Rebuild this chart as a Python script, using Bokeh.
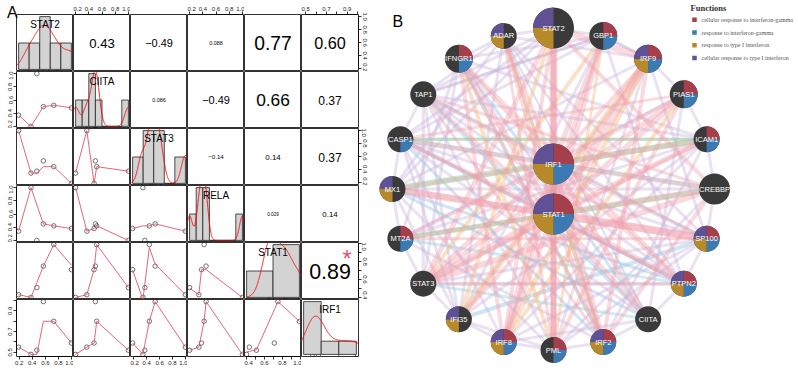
import numpy as np
from bokeh.plotting import figure
from bokeh.models import Range1d, LinearAxis, FixedTicker, PrintfTickFormatter, Div
from bokeh.layouts import gridplot, row
from bokeh.embed import file_html
from bokeh.resources import INLINE
from bokeh.core.properties import value

# ======================= Panel A data (6 samples) =======================
var_names = ["STAT2", "CIITA", "STAT3", "RELA", "STAT1", "IRF1"]
STAT2 = [0.19, 0.38, 0.47, 0.57, 0.73, 1.00]
CIITA = [0.37, 0.20, 1.00, 0.50, 0.52, 0.48]
STAT3 = [1.00, 0.34, 0.37, 0.53, 0.44, 0.18]
RELA = [0.34, 1.00, 0.20, 0.45, 0.42, 0.38]
STAT1 = [0.43, 0.40, 0.51, 0.75, 0.99, 0.71]
IRF1 = [0.55, 0.48, 0.52, 0.99, 0.80, 0.59]

# upper-triangle correlations (row-major), as printed
cor_values = [0.43, -0.49, 0.088, 0.77, 0.60,
              0.086, -0.49, 0.66, 0.37,
              -0.14, 0.14, 0.37,
              0.029, 0.14,
              0.89]
cor_stars = ["", "", "", "", "",
             "", "", "", "",
             "", "", "",
             "", "",
             "*"]

# ======================= Panel B data =======================
ring_genes = ["STAT2", "GBP1", "IRF9", "PIAS1", "ICAM1", "CREBBP", "SP100", "PTPN2", "CIITA", "IRF2",
              "PML", "IRF8", "IFI35", "STAT3", "MT2A", "MX1", "CASP1", "TAP1", "IFNGR1", "ADAR"]
hub_genes = ["IRF1", "STAT1"]
big_genes = ["STAT2", "IRF1", "STAT1"]
mid_genes = ["CREBBP"]
upper_mid_genes = ["GBP1", "IRF9", "PIAS1", "IFNGR1"]
func_names = ["cellular response to interferon-gamma", "response to interferon-gamma",
              "response to type I interferon", "cellular response to type I interferon"]
func_colors = ["#a53f4c", "#3b7ab2", "#b68a2b", "#5f5193"]
func_members = [
    ["IRF1", "STAT1", "GBP1", "IRF9", "PIAS1", "ICAM1", "SP100", "PTPN2", "IRF2", "PML", "IRF8", "MT2A", "IFNGR1"],
    ["IRF1", "STAT1", "GBP1", "IRF9", "PIAS1", "ICAM1", "SP100", "PTPN2", "IRF2", "PML", "IRF8", "MT2A", "IFNGR1", "CASP1"],
    ["IRF1", "STAT1", "STAT2", "IRF9", "SP100", "PTPN2", "IRF2", "IRF8", "IFI35", "MX1", "ADAR"],
    ["IRF1", "STAT1", "STAT2", "IRF9", "SP100", "PTPN2", "IRF2", "IRF8", "IFI35", "MX1", "ADAR"],
]
edges_physical = [
    ("STAT1", "STAT2", 8), ("STAT1", "GBP1", 5), ("STAT1", "IRF9", 8), ("STAT1", "PIAS1", 6), ("STAT1", "ICAM1", 5),
    ("STAT1", "CREBBP", 6), ("STAT1", "SP100", 8), ("STAT1", "PTPN2", 6), ("STAT1", "CIITA", 5), ("STAT1", "IRF2", 5),
    ("STAT1", "PML", 7), ("STAT1", "IRF8", 5), ("STAT1", "IFI35", 4), ("STAT1", "STAT3", 8), ("STAT1", "MT2A", 4),
    ("STAT1", "MX1", 6), ("STAT1", "CASP1", 4), ("STAT1", "TAP1", 4), ("STAT1", "IFNGR1", 6), ("STAT1", "ADAR", 4),
    ("STAT1", "IRF1", 7),
    ("IRF1", "STAT2", 6), ("IRF1", "GBP1", 5), ("IRF1", "IRF9", 4), ("IRF1", "PIAS1", 4), ("IRF1", "ICAM1", 5),
    ("IRF1", "CREBBP", 5), ("IRF1", "SP100", 4), ("IRF1", "PTPN2", 4), ("IRF1", "IRF2", 6), ("IRF1", "PML", 5),
    ("IRF1", "IRF8", 6), ("IRF1", "STAT3", 5), ("IRF1", "MT2A", 4), ("IRF1", "MX1", 4), ("IRF1", "CASP1", 5),
    ("IRF1", "TAP1", 4), ("IRF1", "IFNGR1", 4), ("IRF1", "ADAR", 4), ("IRF1", "CIITA", 5),
    ("STAT2", "IRF9", 7), ("STAT2", "STAT3", 5), ("STAT2", "PML", 5), ("STAT2", "CREBBP", 4), ("STAT2", "IRF8", 4),
    ("STAT3", "CREBBP", 6), ("STAT3", "PIAS1", 5), ("STAT3", "PTPN2", 4), ("STAT3", "ICAM1", 4), ("PIAS1", "PML", 4),
    ("CREBBP", "IRF2", 4), ("IFNGR1", "PTPN2", 4), ("IRF9", "IRF2", 4), ("GBP1", "IRF8", 4), ("IFNGR1", "IRF2", 4),
    ("TAP1", "IRF2", 3), ("MX1", "SP100", 7), ("IFNGR1", "IRF8", 4), ("CASP1", "PIAS1", 3), ("ADAR", "PML", 3),
    ("TAP1", "CREBBP", 3), ("CASP1", "PTPN2", 3), ("MT2A", "SP100", 3), ("IFI35", "IRF9", 3),
]
edges_predicted = [("IRF9", "IFI35", 7), ("IRF9", "IRF8", 5), ("GBP1", "STAT3", 4), ("PIAS1", "IRF8", 4),
                   ("IFNGR1", "PML", 4), ("ADAR", "IRF2", 4), ("STAT2", "IFI35", 4), ("GBP1", "PML", 3)]
edges_genetic = [("ICAM1", "MX1", 6), ("CREBBP", "MT2A", 5), ("ICAM1", "CASP1", 3)]
edges_coloc = [("CIITA", "TAP1", 4), ("PTPN2", "CASP1", 4), ("SP100", "IFI35", 4), ("CIITA", "IFNGR1", 3),
               ("PTPN2", "MX1", 3), ("IRF2", "CASP1", 3), ("CIITA", "MX1", 3), ("SP100", "TAP1", 3),
               ("CIITA", "ADAR", 2), ("PTPN2", "STAT3", 2)]
edges_pathway = [("CIITA", "STAT3", 3), ("IRF2", "IFNGR1", 3), ("PTPN2", "MT2A", 3), ("CREBBP", "CASP1", 4)]
edges_coexp = [
    ("STAT2", "TAP1", 3), ("STAT2", "MX1", 3), ("STAT2", "CASP1", 3), ("GBP1", "TAP1", 3), ("GBP1", "IFI35", 3),
    ("GBP1", "CASP1", 3), ("GBP1", "IRF9", 3), ("IRF9", "MX1", 3), ("IRF9", "ADAR", 3), ("IRF9", "SP100", 3),
    ("ADAR", "SP100", 3), ("ADAR", "MX1", 3), ("ADAR", "IFI35", 3), ("TAP1", "IFI35", 3), ("TAP1", "PML", 3),
    ("TAP1", "ICAM1", 3), ("CASP1", "ICAM1", 3), ("CASP1", "IRF8", 3), ("MX1", "IFI35", 3), ("MX1", "PML", 3),
    ("SP100", "PML", 3), ("PML", "IRF9", 3), ("IRF8", "CIITA", 3), ("IRF8", "ICAM1", 3), ("MT2A", "ICAM1", 3),
    ("MT2A", "PIAS1", 3), ("STAT3", "SP100", 3), ("IRF2", "ADAR", 3), ("PTPN2", "TAP1", 3), ("CIITA", "CASP1", 3),
    ("IFI35", "ICAM1", 3), ("IFI35", "PML", 3), ("IFNGR1", "GBP1", 3), ("IFNGR1", "ICAM1", 3), ("TAP1", "GBP1", 3),
    ("MT2A", "IRF2", 3), ("STAT3", "IFNGR1", 3), ("MX1", "CREBBP", 3), ("CASP1", "SP100", 3), ("ADAR", "PTPN2", 3),
    ("ADAR", "IFNGR1", 3), ("ADAR", "TAP1", 3), ("TAP1", "CASP1", 3), ("CASP1", "MX1", 3), ("MX1", "MT2A", 3),
    ("MT2A", "STAT3", 3), ("STAT3", "IFI35", 3), ("IFI35", "IRF8", 3), ("IRF8", "PML", 3), ("PML", "IRF2", 3),
    ("IRF2", "CIITA", 3), ("CIITA", "PTPN2", 3), ("PTPN2", "SP100", 3), ("SP100", "CREBBP", 3),
    ("CREBBP", "ICAM1", 3), ("ICAM1", "PIAS1", 3), ("PIAS1", "IRF9", 3), ("IRF9", "GBP1", 3), ("GBP1", "STAT2", 3),
    ("STAT2", "ADAR", 3), ("IFNGR1", "MT2A", 3), ("TAP1", "STAT3", 3), ("CASP1", "IFI35", 3), ("GBP1", "PTPN2", 3),
    ("PIAS1", "CIITA", 3), ("ICAM1", "IRF2", 3), ("CREBBP", "PML", 3), ("SP100", "IRF8", 3),
]

# ======================= helpers =======================
def r_pretty(lo, hi, n, min_n=None):
    if min_n is None:
        min_n = n // 3
    h, h5 = 1.5, 0.5 + 1.5 * 1.5
    dx = hi - lo
    cell = dx / n if dx > 0 else max(abs(lo), 1.0)
    base = 10.0 ** np.floor(np.log10(cell))
    unit = base
    if 2 * base - cell < h * (cell - unit):
        unit = 2 * base
        if 5 * base - cell < h5 * (cell - unit):
            unit = 5 * base
            if 10 * base - cell < h * (cell - unit):
                unit = 10 * base
    ns = np.floor(lo / unit + 1e-7)
    nu = np.ceil(hi / unit - 1e-7)
    while ns * unit > lo + 1e-10 * unit:
        ns -= 1
    while nu * unit < hi - 1e-10 * unit:
        nu += 1
    return np.round(np.arange(ns, nu + 0.5) * unit, 10)


def fd_breaks(x):
    q1, q3 = np.percentile(x, [25, 75])
    hfd = 2 * (q3 - q1) * len(x) ** (-1 / 3)
    nb = int(np.ceil((x.max() - x.min()) / hfd)) if hfd > 0 else 1
    return r_pretty(x.min(), x.max(), nb, min_n=1)


def hist_density(x, br):
    fz = 1e-7 * np.median(np.diff(br))
    fb = br + np.r_[-fz, np.full(len(br) - 1, fz)]
    idx = np.searchsorted(fb, x, side="left") - 1
    cnt = np.bincount(idx, minlength=len(br) - 1)[:len(br) - 1]
    return cnt / (len(x) * np.diff(br))


def kde(x):
    hi = np.std(x, ddof=1)
    q1, q3 = np.percentile(x, [25, 75])
    lo = min(hi, (q3 - q1) / 1.34) or hi
    bw = 0.9 * lo * len(x) ** (-0.2)
    g = np.linspace(x.min() - 3 * bw, x.max() + 3 * bw, 512)
    d = np.exp(-0.5 * ((g[:, None] - x[None, :]) / bw) ** 2).sum(1) / (len(x) * bw * np.sqrt(2 * np.pi))
    return g, d


def lowess(x, y, f=2 / 3, iters=3):
    x = np.asarray(x, float)
    y = np.asarray(y, float)
    o = np.argsort(x, kind="mergesort")
    x, y = x[o], y[o]
    n = len(x)
    ns = max(2, min(n, int(f * n + 1e-7)))
    rng = x[-1] - x[0]
    delta = 0.01 * rng
    ys = np.zeros(n)
    rw = np.ones(n)

    def lowest(xs, nleft, nright, userw):
        h = max(xs - x[nleft], x[nright] - xs)
        h9, h1 = 0.999 * h, 0.001 * h
        w = np.zeros(n)
        a = 0.0
        j = nleft
        while j < n:
            r = abs(x[j] - xs)
            if r <= h9:
                w[j] = 1.0 if r <= h1 else (1 - (r / h) ** 3) ** 3
                if userw:
                    w[j] *= rw[j]
                a += w[j]
            elif x[j] > xs:
                break
            j += 1
        nrt = j - 1
        if a <= 0:
            return None
        sl = slice(nleft, nrt + 1)
        w[sl] /= a
        if h > 0:
            a = np.sum(w[sl] * x[sl])
            b = xs - a
            c = np.sum(w[sl] * (x[sl] - a) ** 2)
            if np.sqrt(c) > 0.001 * rng:
                b /= c
                w[sl] *= b * (x[sl] - a) + 1.0
        return np.sum(w[sl] * y[sl])

    it = 1
    while it <= iters + 1:
        nleft, nright, last, i = 0, ns - 1, -1, 0
        while True:
            if nright < n - 1:
                if x[i] - x[nleft] > x[nright + 1] - x[i]:
                    nleft += 1
                    nright += 1
                    continue
            v = lowest(x[i], nleft, nright, it > 1)
            ys[i] = y[i] if v is None else v
            if last < i - 1:
                denom = x[i] - x[last]
                for j in range(last + 1, i):
                    al = (x[j] - x[last]) / denom
                    ys[j] = al * ys[i] + (1 - al) * ys[last]
            last = i
            cut = x[last] + delta
            i = last + 1
            while i < n:
                if x[i] > cut:
                    break
                if x[i] == x[last]:
                    ys[i] = ys[last]
                    last = i
                i += 1
            i = max(last + 1, i - 1)
            if last >= n - 1:
                break
        res = y - ys
        sc = np.mean(np.abs(res))
        if it > iters:
            break
        ar = np.sort(np.abs(res))
        m1 = n // 2
        cmad = 3 * (ar[m1] + ar[n - m1 - 1]) if n % 2 == 0 else 6 * ar[m1]
        if cmad < 1e-7 * sc:
            break
        r = np.abs(res)
        rw = np.where(r <= 0.001 * cmad, 1.0, np.where(r <= 0.999 * cmad, (1 - (r / cmad) ** 2) ** 2, 0.0))
        it += 1
    return x, ys


def ext(lo, hi, f=0.04):
    d = hi - lo
    return lo - f * d, hi + f * d


def em_width(s):
    w = {'.': 0.278, '\u2212': 0.584, '-': 0.333, '*': 0.389}
    return sum(w.get(ch, 0.556) for ch in s)


def fmt_r(r):
    d = max(2, int(-np.floor(np.log10(abs(r)))) + 1)
    return f"{r:.{d}f}".replace("-", "\u2212")


# ======================= Panel A =======================
CELL = 57
LB, TB, BB, RB = 16, 14, 17, 14
FONT = value("Liberation Sans")
data = [np.array(v, float) for v in (STAT2, CIITA, STAT3, RELA, STAT1, IRF1)]
nv = len(data)
var_rng = [ext(v.min(), v.max()) for v in data]


def axis_ticks(lo, hi):
    t = [v for v in r_pretty(lo, hi, 5) if lo - 1e-9 <= v <= hi + 1e-9]
    step = t[1] - t[0]
    if step < 0.15:
        return t[::2], t[1::2], t
    return t, [], t


def add_axis(p, side, lo, hi, visible=True):
    major, minor, allt = axis_ticks(lo, hi)
    ax = LinearAxis(ticker=FixedTicker(ticks=list(major), minor_ticks=list(minor)),
                    formatter=PrintfTickFormatter(format="%.1f"),
                    major_tick_out=3, major_tick_in=0, minor_tick_out=3, minor_tick_in=0,
                    major_label_standoff=1,
                    major_label_text_font_size="6px", major_label_text_font="Liberation Sans",
                    major_label_text_color="#222222",
                    axis_line_color="black", major_tick_line_color="black", minor_tick_line_color="black",
                    axis_line_width=0.8, major_tick_line_width=0.8, minor_tick_line_width=0.8)
    ax.bounds = (allt[0], allt[-1])
    if side in ("left", "right"):
        ax.major_label_orientation = "vertical"
    if not visible:
        ax.axis_line_alpha = 0
        ax.major_tick_line_alpha = 0
        ax.minor_tick_line_alpha = 0
        ax.major_label_text_alpha = 0
    p.add_layout(ax, side)


cor_iter = iter(zip(cor_values, cor_stars))
upper = {}
for r in range(nv):
    for c in range(r + 1, nv):
        upper[(r, c)] = next(cor_iter)

figs = []
for r in range(nv):
    frow = []
    for c in range(nv):
        if r == c:
            x = data[r]
            br = fd_breaks(x)
            dens = hist_density(x, br)
            xr = ext(br[0], br[-1])
            yr = ext(0.0, dens.max())
        else:
            xr, yr = var_rng[c], var_rng[r]
        p = figure(width=CELL + (LB if c == 0 else 0) + (RB if c == nv - 1 else 0),
                   height=CELL + (TB if r == 0 else 0) + (BB if r == nv - 1 else 0),
                   x_range=Range1d(*xr), y_range=Range1d(*yr),
                   x_axis_type=None, y_axis_type=None,
                   toolbar_location=None, output_backend="svg",
                   min_border_left=LB if c == 0 else 0, min_border_right=RB if c == nv - 1 else 0,
                   min_border_top=TB if r == 0 else 0, min_border_bottom=BB if r == nv - 1 else 0)
        p.outline_line_color = "#333333"
        p.outline_line_width = 1
        fx = lambda t, xr=xr: xr[0] + t * (xr[1] - xr[0])
        fy = lambda t, yr=yr: yr[0] + t * (yr[1] - yr[0])
        if r == c:
            p.quad(left=br[:-1], right=br[1:], top=dens, bottom=0,
                   fill_color="#d3d3d3", line_color="#222222", line_width=0.8)
            g, d = kde(x)
            p.line(g, d, color="red", line_width=0.9)
            rl = 0.03 * (yr[1] - yr[0])
            p.segment(x0=x, y0=[yr[0]] * len(x), x1=x, y1=[yr[0] + rl] * len(x), color="black", line_width=0.6)
            p.text(x=[fx(0.5)], y=[fy(5 / 6)], text=[var_names[r]], text_font=FONT,
                   text_font_size="10px", text_align="center", text_baseline="middle", text_color="black")
        elif r > c:
            p.scatter(data[c], data[r], marker="circle", size=4.5, fill_color=None,
                      line_color="#3a3a3a", line_width=0.7)
            lx, ly = lowess(data[c], data[r])
            p.line(lx, ly, color="#DF536B", line_width=0.9)
        else:
            rv, star = upper[(r, c)]
            txt = fmt_r(rv)
            base = 0.8 * CELL / em_width(txt)
            fs = base * (abs(rv) + 0.3) / 1.3
            p.text(x=[fx(0.5)], y=[fy(0.5)], text=[txt], text_font=FONT,
                   text_font_size=f"{fs:.2f}px", text_align="center", text_baseline="middle",
                   text_color="black")
            if star:
                p.text(x=[fx(0.8)], y=[fy(0.8 - 0.22 * base / CELL)], text=[star], text_font=FONT,
                       text_font_size=f"{base:.2f}px", text_align="center", text_baseline="middle",
                       text_color="#DF536B")
        # axes (invisible ones keep the borders equal)
        if r == 0:
            lo, hi = (var_rng[c] if r != c else xr)
            add_axis(p, "above", lo, hi, visible=(c % 2 == 1 and r != c))
        if r == nv - 1:
            lo, hi = (var_rng[c] if r != c else xr)
            add_axis(p, "below", lo, hi, visible=(c % 2 == 0 and r != c))
        if c == 0:
            lo, hi = (var_rng[r] if r != c else yr)
            add_axis(p, "left", lo, hi, visible=(r % 2 == 1 and r != c))
        if c == nv - 1:
            lo, hi = (var_rng[r] if r != c else yr)
            add_axis(p, "right", lo, hi, visible=(r % 2 == 0 and r != c))
        frow.append(p)
    figs.append(frow)

grid = gridplot(figs, toolbar_location=None)

# panel letter "A" (taken out of the flow, placed on the top-left corner)
labelA = Div(text="A", width=0, height=0,
             styles={"font-family": "Liberation Sans", "font-size": "16px", "line-height": "16px",
                     "color": "black", "overflow": "visible", "position": "absolute",
                     "left": "2px", "top": "0px", "z-index": "10", "white-space": "nowrap"})

# ======================= Panel B =======================
BW, BH = 426, 373
pB = figure(width=BW, height=BH, x_range=Range1d(0, BW), y_range=Range1d(0, BH),
            x_axis_type=None, y_axis_type=None, toolbar_location=None, output_backend="svg",
            min_border=0, outline_line_color=None)
cx, cy, RR = 181.0, 184.5, 161.0
pos = {}
for k, gname in enumerate(ring_genes):
    th = np.deg2rad(k * 360.0 / len(ring_genes))
    pos[gname] = (cx + RR * np.sin(th), cy + RR * np.cos(th))
pos[hub_genes[0]] = (cx, cy + 25)
pos[hub_genes[1]] = (cx, cy - 25)


def draw_edges(elist, color, alpha):
    x0 = [pos[a][0] for a, b, w in elist]
    y0 = [pos[a][1] for a, b, w in elist]
    x1 = [pos[b][0] for a, b, w in elist]
    y1 = [pos[b][1] for a, b, w in elist]
    lw = [w for a, b, w in elist]
    pB.segment(x0=x0, y0=y0, x1=x1, y1=y1, line_color=color, line_alpha=alpha, line_width=lw,
               line_cap="round")


draw_edges(edges_coexp, "#cbb6dd", 0.4)
draw_edges(edges_pathway, "#8ed3dd", 0.4)
draw_edges(edges_coloc, "#9dc3e8", 0.45)
draw_edges(edges_genetic, "#93d79e", 0.5)
draw_edges(edges_predicted, "#f2b77a", 0.4)
draw_edges(edges_physical, "#ef9dab", 0.38)


def node_radius(gname):
    if gname in big_genes:
        return 20.5
    if gname in mid_genes:
        return 15.5
    if gname in upper_mid_genes:
        return 14.0
    return 13.0


all_genes = ring_genes + hub_genes
nx = [pos[gname][0] for gname in all_genes]
ny = [pos[gname][1] for gname in all_genes]
nr = [node_radius(gname) for gname in all_genes]
pB.circle(x=nx, y=ny, radius=nr, fill_color="#3a3a3a", line_color=None)
quad_angles = [(0, 90), (270, 360), (180, 270), (90, 180)]
for fi, members in enumerate(func_members):
    sel = [i for i, gname in enumerate(all_genes) if gname in members]
    a0, a1 = quad_angles[fi]
    pB.wedge(x=[nx[i] for i in sel], y=[ny[i] for i in sel], radius=[nr[i] for i in sel],
             start_angle=np.deg2rad(a0), end_angle=np.deg2rad(a1),
             fill_color=func_colors[fi], line_color=None)
pB.text(x=nx, y=ny, text=all_genes, text_color="white", text_font=FONT, text_font_size="7.5px",
        text_align="center", text_baseline="middle")

# legend
pB.text(x=[318], y=[BH - 7], text=["Functions"], text_font=value("Liberation Serif"), text_font_style="bold",
        text_font_size="8.5px", text_color="#333333", text_baseline="middle")
ly = [BH - 19.3 - 12.7 * i for i in range(len(func_names))]
pB.scatter(x=[322] * len(func_names), y=ly, marker="square", size=4.5, fill_color=func_colors, line_color=None)
pB.text(x=[329] * len(func_names), y=ly, text=func_names, text_font=value("Liberation Serif"),
        text_font_size="6px", text_color="#555555", text_baseline="middle")
pB.text(x=[20], y=[BH - 21], text=["B"], text_font=FONT, text_font_size="16px",
        text_baseline="alphabetic", text_color="black")

layout = row(labelA, grid, pB)
open("out.html", "w").write(file_html(layout, INLINE))
